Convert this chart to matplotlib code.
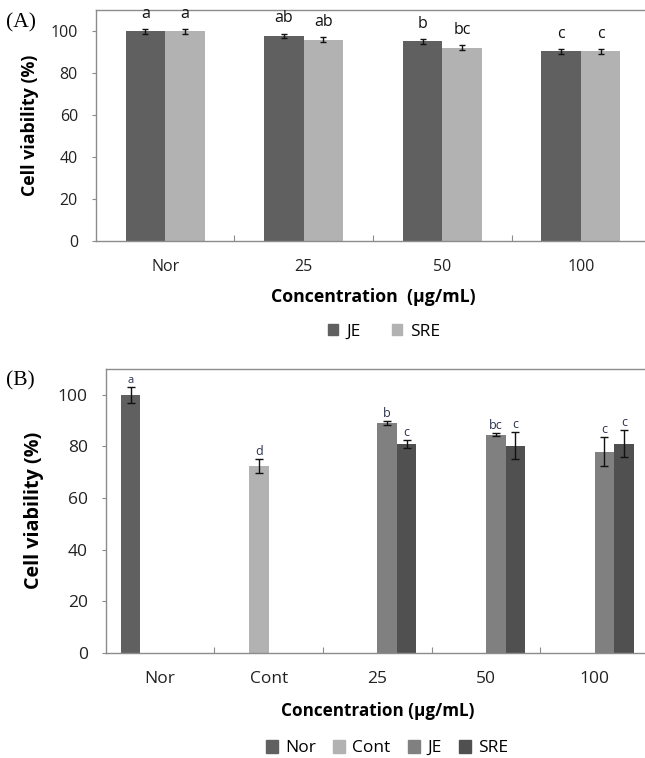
import numpy as np
import matplotlib
matplotlib.use('Agg')
import matplotlib.pyplot as plt
from matplotlib.patches import Patch
from matplotlib.ticker import FixedLocator

plt.rcParams['font.family'] = ['Open Sans', 'DejaVu Sans']

# panel A data
cats_a = ['Nor', '25', '50', '100']
je_a = [100.0, 97.9, 95.2, 90.5]
sre_a = [100.0, 96.0, 92.2, 90.5]
je_a_err = [1.1, 1.1, 1.0, 1.1]
sre_a_err = [1.1, 1.1, 1.1, 1.1]
je_a_let = ['a', 'ab', 'b', 'c']
sre_a_let = ['a', 'ab', 'bc', 'c']

# panel B data (nan = no bar)
cats_b = ['Nor', 'Cont', '25', '50', '100']
nor_b = [100.0, np.nan, np.nan, np.nan, np.nan]
cont_b = [np.nan, 72.4, np.nan, np.nan, np.nan]
je_b = [np.nan, np.nan, 89.0, 84.6, 78.0]
sre_b = [np.nan, np.nan, 80.9, 80.2, 81.0]
nor_b_err = [3.0, np.nan, np.nan, np.nan, np.nan]
cont_b_err = [np.nan, 2.8, np.nan, np.nan, np.nan]
je_b_err = [np.nan, np.nan, 0.9, 0.5, 5.6]
sre_b_err = [np.nan, np.nan, 1.5, 5.2, 5.3]
nor_b_let = ['a', '', '', '', '']
cont_b_let = ['', 'd', '', '', '']
je_b_let = ['', '', 'b', 'bc', 'c']
sre_b_let = ['', '', 'c', 'c', 'c']

GRID = '#8c8c8c'


def style_axes(ax, ncat, fs):
    ax.set_xlim(-0.5, ncat - 0.5)
    ax.set_ylim(0, 110)
    ax.set_yticks([0, 20, 40, 60, 80, 100])
    ax.xaxis.set_minor_locator(FixedLocator(np.arange(0.5, ncat - 0.5, 1)))
    ax.tick_params(axis='x', which='major', length=0, pad=13, labelsize=fs, colors='#222222')
    ax.tick_params(axis='x', which='minor', length=4, direction='in', color=GRID, width=0.8)
    ax.tick_params(axis='y', length=3, direction='out', color=GRID, width=0.8,
                   pad=10, labelsize=fs, labelcolor='#222222')
    for s in ['left', 'bottom', 'top']:
        ax.spines[s].set_color(GRID)
        ax.spines[s].set_linewidth(1.0)
    ax.spines['right'].set_visible(False)


def add_bars(ax, x, vals, errs, lets, color, width, capsize, fs, off, lcolor):
    ax.bar(x, vals, width, color=color, edgecolor='none', zorder=2)
    ax.errorbar(x, vals, yerr=errs, fmt='none', ecolor='#111111', elinewidth=1.0,
                capsize=capsize, capthick=1.0, zorder=3)
    for xi, v, e, t in zip(x, vals, errs, lets):
        if t:
            ax.annotate(t, (xi, v + e), xytext=(0, off), textcoords='offset points',
                        ha='center', va='baseline', fontsize=fs, color=lcolor)


fig = plt.figure(figsize=(6.45, 7.58), dpi=100)

# ---- panel A ----
ax1 = fig.add_axes([0.1488, 0.6821, 0.859, 0.3041])
xa = np.arange(len(cats_a))
wa = 0.285
add_bars(ax1, xa - wa / 2, je_a, je_a_err, je_a_let, '#606060', wa, 2.2, 11.5, 8, '#111111')
add_bars(ax1, xa + wa / 2, sre_a, sre_a_err, sre_a_let, '#b2b2b2', wa, 2.2, 11.5, 8, '#111111')
style_axes(ax1, len(cats_a), 11.5)
ax1.set_xticks(xa)
ax1.set_xticklabels(cats_a)
ax1.set_ylabel('Cell viability (%)', fontsize=12.8, fontweight='bold', labelpad=8)
ax1.set_xlabel('Concentration  (\u00b5g/mL)', fontsize=12.8, fontweight='bold', labelpad=9)
leg = [Patch(color='#606060', label='JE'), Patch(color='#b2b2b2', label='SRE')]
fig.legend(handles=leg, loc='center', bbox_to_anchor=(384 / 645, 1 - 332 / 758), ncol=2,
           frameon=False, fontsize=12.5, handlelength=0.6, handleheight=0.6,
           handletextpad=0.45, columnspacing=1.8)
fig.text(6 / 645, 1 - 23 / 758, '(A)', fontsize=15.5, family='Liberation Serif', va='center')

# ---- panel B ----
ax2 = fig.add_axes([0.1639, 0.1389, 0.8423, 0.3743])
xb = np.arange(len(cats_b))
wb = 0.18
lc = '#2b3150'
add_bars(ax2, xb - 1.5 * wb, nor_b, nor_b_err, nor_b_let, '#606060', wb, 3, 8, 3, lc)
add_bars(ax2, xb - 0.5 * wb, cont_b, cont_b_err, cont_b_let, '#b2b2b2', wb, 3, 9, 3, lc)
add_bars(ax2, xb + 0.5 * wb, je_b, je_b_err, je_b_let, '#808080', wb, 3, 9, 3, lc)
add_bars(ax2, xb + 1.5 * wb, sre_b, sre_b_err, sre_b_let, '#505050', wb, 3, 9, 3, lc)
style_axes(ax2, len(cats_b), 12.5)
ax2.set_xticks(xb)
ax2.set_xticklabels(cats_b)
ax2.set_ylabel('Cell viability (%)', fontsize=14.2, fontweight='bold', labelpad=10)
ax2.set_xlabel('Concentration (\u00b5g/mL)', fontsize=12.3, fontweight='bold', labelpad=11)
leg2 = [Patch(color='#606060', label='Nor'), Patch(color='#b2b2b2', label='Cont'),
        Patch(color='#808080', label='JE'), Patch(color='#505050', label='SRE')]
fig.legend(handles=leg2, loc='center', bbox_to_anchor=(387 / 645, 1 - 748 / 758), ncol=4,
           frameon=False, fontsize=12.5, handlelength=0.7, handleheight=0.75,
           handletextpad=0.4, columnspacing=1.0)
fig.text(6 / 645, 1 - 381 / 758, '(B)', fontsize=15.5, family='Liberation Serif', va='center')

fig.savefig('out.png', dpi=100)
